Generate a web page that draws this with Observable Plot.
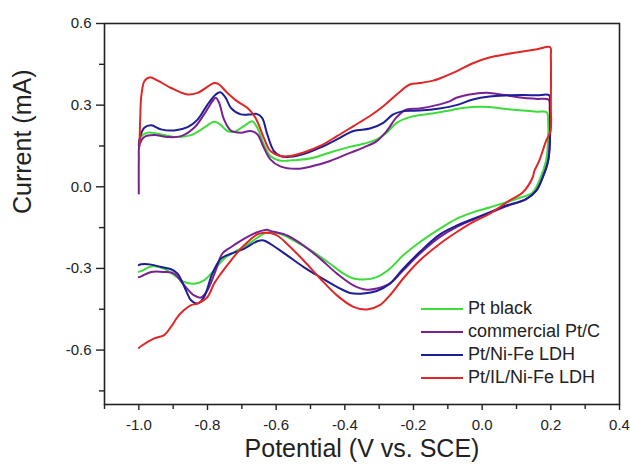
<!DOCTYPE html>
<html>
<head>
<meta charset="utf-8">
<script src="https://cdn.jsdelivr.net/npm/d3@7"></script>
<script src="https://cdn.jsdelivr.net/npm/@observablehq/plot@0.6"></script>
<style>
  body { margin: 0; background: #fff; }
  #wrap { position: relative; width: 630px; height: 471px; font-family: "Liberation Sans", Arial, sans-serif; }
  #legend { position: absolute; left: 421px; top: 297px; font-size: 18px; color: #222; }
  #legend .row { display: flex; align-items: center; height: 23px; }
  #legend .sw { width: 42px; height: 2px; margin-right: 5px; }
</style>
</head>
<body>
<div id="wrap"></div>
<script>
// Cyclic voltammograms: [potential (V vs. SCE), current (mA)] pairs
const ptBlack = [
  [-1.000, 0.150], [-0.996, 0.180], [-0.974, 0.199], [-0.945, 0.195], [-0.897, 0.183], [-0.848, 0.190],
  [-0.810, 0.217], [-0.781, 0.239], [-0.766, 0.232], [-0.742, 0.205], [-0.723, 0.202], [-0.694, 0.223],
  [-0.670, 0.241], [-0.655, 0.217], [-0.636, 0.156], [-0.617, 0.113], [-0.588, 0.096], [-0.560, 0.097],
  [-0.539, 0.098], [-0.491, 0.107], [-0.443, 0.126], [-0.394, 0.144], [-0.346, 0.158], [-0.307, 0.174],
  [-0.278, 0.199], [-0.249, 0.235], [-0.211, 0.256], [-0.153, 0.268], [-0.095, 0.280], [-0.075, 0.286],
  [-0.027, 0.293], [0.021, 0.293], [0.070, 0.286], [0.118, 0.280], [0.160, 0.276], [0.188, 0.274],
  [0.192, 0.240], [0.191, 0.150], [0.186, 0.095], [0.166, 0.022], [0.147, -0.021], [0.099, -0.045],
  [0.021, -0.076], [-0.027, -0.094], [-0.075, -0.118], [-0.124, -0.155], [-0.182, -0.204],
  [-0.230, -0.252], [-0.269, -0.301], [-0.307, -0.332], [-0.346, -0.341], [-0.375, -0.337],
  [-0.404, -0.319], [-0.443, -0.283], [-0.491, -0.240], [-0.539, -0.204], [-0.588, -0.173],
  [-0.617, -0.167], [-0.636, -0.172], [-0.674, -0.204], [-0.713, -0.234], [-0.752, -0.264],
  [-0.781, -0.307], [-0.810, -0.344], [-0.839, -0.356], [-0.868, -0.350], [-0.897, -0.325],
  [-0.926, -0.301], [-0.964, -0.293], [-0.993, -0.310], [-1.000, -0.312]
];
const ptC = [
  [-1.000, -0.025], [-1.000, 0.100], [-0.998, 0.156], [-0.984, 0.183], [-0.955, 0.190], [-0.916, 0.183],
  [-0.877, 0.186], [-0.839, 0.217], [-0.810, 0.266], [-0.786, 0.314], [-0.776, 0.327], [-0.766, 0.308],
  [-0.752, 0.248], [-0.732, 0.207], [-0.703, 0.199], [-0.674, 0.205], [-0.655, 0.193], [-0.636, 0.144],
  [-0.617, 0.101], [-0.588, 0.075], [-0.540, 0.066], [-0.491, 0.077], [-0.443, 0.095], [-0.394, 0.120],
  [-0.346, 0.144], [-0.307, 0.168], [-0.278, 0.205], [-0.249, 0.256], [-0.220, 0.284], [-0.182, 0.288],
  [-0.133, 0.300], [-0.095, 0.314], [-0.075, 0.327], [-0.027, 0.341], [0.021, 0.345], [0.070, 0.336],
  [0.118, 0.327], [0.160, 0.323], [0.194, 0.320],
  [0.197, 0.280], [0.197, 0.160], [0.192, 0.095], [0.176, 0.034], [0.157, -0.015], [0.128, -0.045],
  [0.070, -0.072], [0.021, -0.097], [-0.027, -0.121], [-0.075, -0.148], [-0.124, -0.185],
  [-0.182, -0.246], [-0.230, -0.307], [-0.269, -0.356], [-0.307, -0.374], [-0.336, -0.378],
  [-0.375, -0.362], [-0.423, -0.319], [-0.472, -0.264], [-0.520, -0.216], [-0.568, -0.179],
  [-0.617, -0.162], [-0.626, -0.158], [-0.655, -0.167], [-0.694, -0.191], [-0.732, -0.222],
  [-0.757, -0.246], [-0.776, -0.307], [-0.800, -0.380], [-0.819, -0.407], [-0.839, -0.399],
  [-0.868, -0.362], [-0.897, -0.319], [-0.926, -0.313], [-0.964, -0.313], [-0.993, -0.329], [-1.000, -0.332]
];
const ptLdh = [
  [-1.000, 0.150], [-0.997, 0.180], [-0.984, 0.217], [-0.964, 0.226], [-0.935, 0.211], [-0.897, 0.207],
  [-0.858, 0.219], [-0.829, 0.247], [-0.800, 0.302], [-0.776, 0.339], [-0.763, 0.347], [-0.747, 0.327],
  [-0.732, 0.290], [-0.703, 0.266], [-0.674, 0.266], [-0.657, 0.268], [-0.641, 0.253], [-0.626, 0.193],
  [-0.607, 0.132], [-0.588, 0.113], [-0.559, 0.110], [-0.520, 0.120], [-0.472, 0.144], [-0.423, 0.174],
  [-0.375, 0.205], [-0.327, 0.214], [-0.288, 0.235], [-0.259, 0.266], [-0.230, 0.278], [-0.182, 0.280],
  [-0.124, 0.288], [-0.075, 0.300], [-0.027, 0.321], [0.021, 0.332], [0.070, 0.336], [0.120, 0.337],
  [0.160, 0.336], [0.195, 0.336],
  [0.197, 0.300], [0.197, 0.160], [0.192, 0.095], [0.176, 0.034], [0.157, -0.015], [0.128, -0.045],
  [0.070, -0.069], [0.021, -0.094], [-0.027, -0.118], [-0.075, -0.143], [-0.124, -0.176],
  [-0.182, -0.240], [-0.230, -0.301], [-0.269, -0.356], [-0.307, -0.383], [-0.346, -0.392],
  [-0.385, -0.390], [-0.423, -0.368], [-0.472, -0.332], [-0.520, -0.295], [-0.568, -0.252],
  [-0.617, -0.210], [-0.636, -0.197], [-0.655, -0.200], [-0.694, -0.228], [-0.732, -0.246],
  [-0.761, -0.264], [-0.786, -0.319], [-0.810, -0.405], [-0.829, -0.429], [-0.848, -0.417],
  [-0.863, -0.380], [-0.887, -0.319], [-0.906, -0.303], [-0.935, -0.295], [-0.964, -0.286],
  [-0.993, -0.285], [-1.000, -0.288]
];
const ptIlLdh = [
  [-0.998, 0.150], [-0.996, 0.250], [-0.993, 0.330], [-0.984, 0.388], [-0.969, 0.402], [-0.945, 0.390],
  [-0.906, 0.363], [-0.858, 0.339], [-0.829, 0.345], [-0.781, 0.381], [-0.769, 0.378], [-0.742, 0.345],
  [-0.713, 0.314], [-0.684, 0.290], [-0.660, 0.253], [-0.636, 0.180], [-0.617, 0.132], [-0.588, 0.113],
  [-0.559, 0.113], [-0.520, 0.126], [-0.472, 0.150], [-0.423, 0.186], [-0.375, 0.223], [-0.327, 0.260],
  [-0.288, 0.296], [-0.249, 0.339], [-0.211, 0.376], [-0.182, 0.381], [-0.143, 0.390], [-0.124, 0.398],
  [-0.075, 0.424], [-0.027, 0.454], [0.021, 0.475], [0.070, 0.487], [0.118, 0.497], [0.160, 0.505],
  [0.198, 0.513],
  [0.200, 0.480], [0.200, 0.300], [0.199, 0.205], [0.186, 0.168], [0.166, 0.095], [0.152, 0.058],
  [0.147, 0.034], [0.118, -0.021], [0.079, -0.051], [0.021, -0.100], [-0.027, -0.130], [-0.075, -0.167],
  [-0.124, -0.210], [-0.182, -0.271], [-0.230, -0.337], [-0.269, -0.399], [-0.298, -0.435],
  [-0.336, -0.451], [-0.375, -0.441], [-0.423, -0.399], [-0.472, -0.337], [-0.520, -0.271],
  [-0.568, -0.210], [-0.597, -0.179], [-0.617, -0.170], [-0.636, -0.169], [-0.655, -0.175],
  [-0.694, -0.216], [-0.732, -0.271], [-0.761, -0.319], [-0.781, -0.356], [-0.800, -0.405],
  [-0.829, -0.429], [-0.848, -0.435], [-0.868, -0.453], [-0.887, -0.478], [-0.906, -0.514],
  [-0.926, -0.545], [-0.955, -0.557], [-0.993, -0.585], [-1.000, -0.592]
];

const seriesNames = ["Pt black", "commercial Pt/C", "Pt/Ni-Fe LDH", "Pt/IL/Ni-Fe LDH"];
const seriesColors = ["#3ddc3a", "#7a2192", "#1d1d96", "#e02626"];
const seriesData = [ptBlack, ptC, ptLdh, ptIlLdh];

const xMajorTicks = [-1.0, -0.8, -0.6, -0.4, -0.2, 0.0, 0.2, 0.4];
const xMinorTicks = [-1.1, -0.9, -0.7, -0.5, -0.3, -0.1, 0.1, 0.3];
const yMajorTicks = [-0.6, -0.3, 0.0, 0.3, 0.6];
const yMinorTicks = [-0.75, -0.45, -0.15, 0.15, 0.45];

const xLabel = "Potential (V vs. SCE)";
const yLabel = "Current (mA)";

// long-format rows, keeping scan order within each curve
const rows = seriesData.flatMap((pts, k) =>
  pts.map(([v, i], idx) => ({ name: seriesNames[k], v, i, idx }))
);

const fmt = d => d.toFixed(1);

const chart = Plot.plot({
  width: 630,
  height: 471,
  marginTop: 23,
  marginRight: 11,
  marginBottom: 67,
  marginLeft: 104,
  style: { fontFamily: "'Liberation Sans', Arial, sans-serif", color: "#222", background: "#fff" },
  x: { domain: [-1.1, 0.4] },
  y: { domain: [-0.8, 0.6] },
  color: { domain: seriesNames, range: seriesColors },
  marks: [
    Plot.line(rows, { x: "v", y: "i", z: "name", stroke: "name", strokeWidth: 2, curve: "catmull-rom" }),
    Plot.frame({ stroke: "#222", strokeWidth: 1.6 }),
    Plot.axisX({ ticks: xMajorTicks, tickSize: 6, tickPadding: 9, tickFormat: fmt, fontSize: 15, label: null, stroke: "#222", strokeWidth: 1.4 }),
    Plot.axisX({ ticks: xMinorTicks, tickSize: 5, tickFormat: () => "", label: null, stroke: "#222", strokeWidth: 1.4 }),
    Plot.axisY({ ticks: yMajorTicks, tickSize: 8, tickPadding: 5, tickFormat: fmt, fontSize: 15, label: null, stroke: "#222", strokeWidth: 1.4 }),
    Plot.axisY({ ticks: yMinorTicks, tickSize: 5, tickFormat: () => "", label: null, stroke: "#222", strokeWidth: 1.4 }),
    Plot.text([xLabel], { text: d => d, frameAnchor: "bottom", dy: 52, fontSize: 25, fill: "#222" }),
    Plot.text([yLabel], { text: d => d, frameAnchor: "left", dx: -82, rotate: -90, fontSize: 25, fill: "#222" })
  ]
});

const wrap = document.getElementById("wrap");
wrap.appendChild(chart);

// legend inside the plotting area
const legend = document.createElement("div");
legend.id = "legend";
seriesNames.forEach((name, k) => {
  const row = document.createElement("div");
  row.className = "row";
  const sw = document.createElement("span");
  sw.className = "sw";
  sw.style.background = seriesColors[k];
  const label = document.createElement("span");
  label.textContent = name;
  row.appendChild(sw);
  row.appendChild(label);
  legend.appendChild(row);
});
wrap.appendChild(legend);
</script>
</body>
</html>
